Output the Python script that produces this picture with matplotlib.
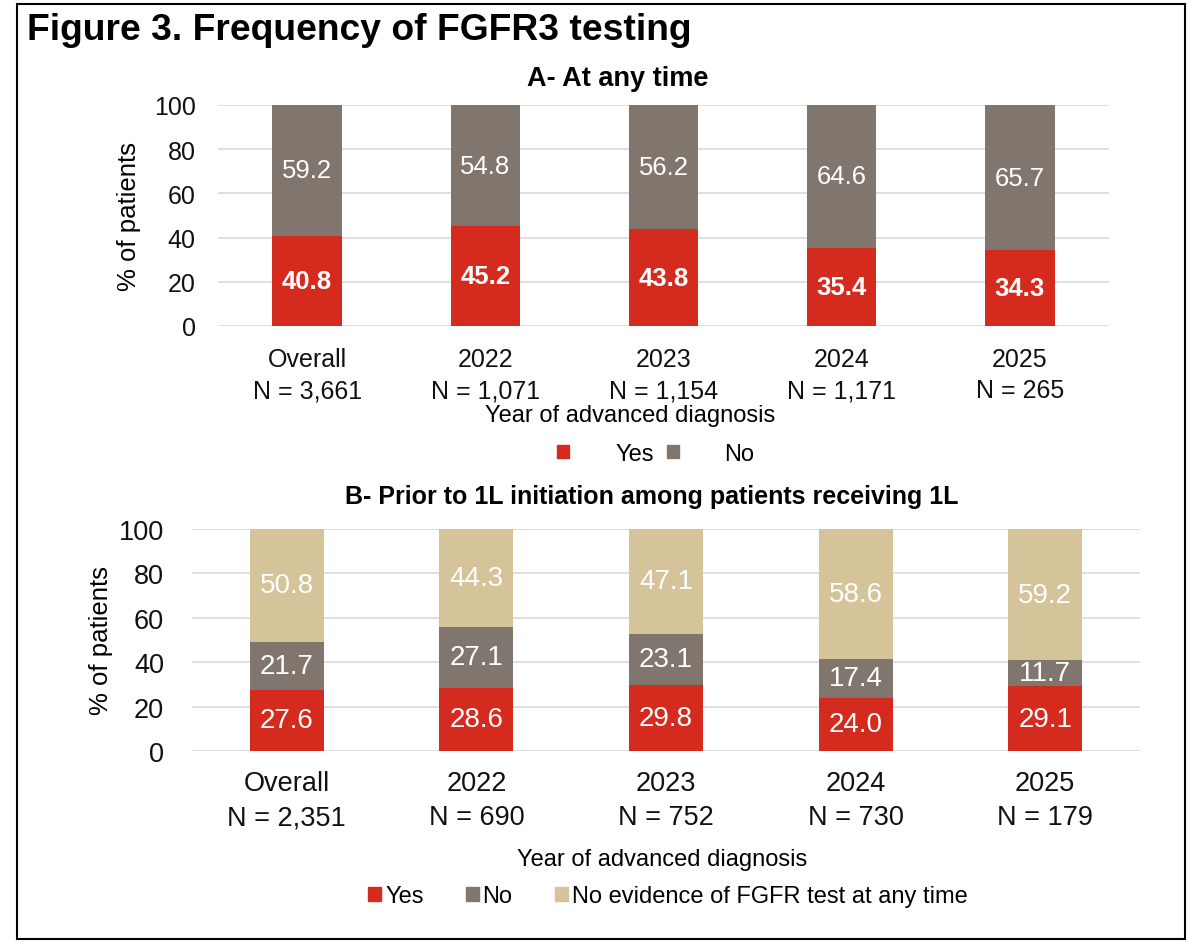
import matplotlib.pyplot as plt
from matplotlib.patches import Patch, Rectangle

plt.rcParams['font.family'] = ['Liberation Sans', 'DejaVu Sans']

RED = "#d52b1e"
GRAY = "#80766d"
TAN = "#d5c39a"

# panel A
cats_a = ["Overall\nN = 3,661", "2022\nN = 1,071", "2023\nN = 1,154", "2024\nN = 1,171", "2025\nN = 265"]
yes_a = [40.8, 45.2, 43.8, 35.4, 34.3]
no_a = [59.2, 54.8, 56.2, 64.6, 65.7]

# panel B
cats_b = ["Overall\nN = 2,351", "2022\nN = 690", "2023\nN = 752", "2024\nN = 730", "2025\nN = 179"]
yes_b = [27.6, 28.6, 29.8, 24.0, 29.1]
no_b = [21.7, 27.1, 23.1, 17.4, 11.7]
noev_b = [50.8, 44.3, 47.1, 58.6, 59.2]

fig = plt.figure(figsize=(12, 9.53), dpi=100)
fig.patches.append(Rectangle((17 / 1200, 1 - 940 / 953), 1168 / 1200, 935 / 953,
                             transform=fig.transFigure, fill=False, edgecolor="black", linewidth=1.5))
fig.text(27 / 1200, 1 - 31 / 953, "Figure 3. Frequency of FGFR3 testing", fontsize=26.8,
         fontweight="bold", va="center", ha="left")


def style(ax, fs, ypad, xpad):
    ax.set_ylim(0, 100)
    ax.set_yticks(range(0, 101, 20))
    ax.yaxis.grid(True, color="#d9d9d9", linewidth=1.2)
    ax.set_axisbelow(True)
    for s in ax.spines.values():
        s.set_visible(False)
    ax.tick_params(axis="both", length=0, labelsize=fs, colors="#111111")
    ax.tick_params(axis="y", pad=ypad)
    ax.tick_params(axis="x", pad=xpad)
    ax.set_ylabel("% of patients", fontsize=18.5)


w = 0.39

# ---- A
ax1 = fig.add_axes([218 / 1200, 1 - 327 / 953, 891 / 1200, 221 / 953])
x = range(len(cats_a))
ax1.bar(x, yes_a, w, color=RED)
ax1.bar(x, no_a, w, bottom=yes_a, color=GRAY)
for i in x:
    ax1.text(i, yes_a[i] / 2, f"{yes_a[i]:.1f}", ha="center", va="center", color="white",
             fontsize=18.5, fontweight="bold")
    ax1.text(i, yes_a[i] + no_a[i] / 2, f"{no_a[i]:.1f}", ha="center", va="center",
             color="white", fontsize=18.5)
ax1.set_xlim(-0.5, len(cats_a) - 0.5)
ax1.set_xticks(list(x))
ax1.set_xticklabels(cats_a, linespacing=1.4)
style(ax1, 18, 16, 15)
ax1.yaxis.set_label_coords(-0.086, 0.5)
ax1.set_xlabel("Year of advanced diagnosis", fontsize=17)
ax1.xaxis.set_label_coords(0.462, -0.403)
ax1.xaxis.label.set_va("center")
ax1.text(0.449, 1 + 27 / 221, "A- At any time", transform=ax1.transAxes, fontsize=19.5,
         fontweight="bold", ha="center", va="center")
ax1.legend(handles=[Patch(color=RED), Patch(color=GRAY)], labels=["Yes", "No"],
           loc="center", bbox_to_anchor=(0.4916, -0.579), ncol=2, frameon=False, fontsize=17,
           handlelength=0.5, handleheight=0.5, handletextpad=1.95, columnspacing=0.55)

# ---- B
ax2 = fig.add_axes([192 / 1200, 1 - 752 / 953, 948 / 1200, 222 / 953])
x = range(len(cats_b))
bot2 = [a + b for a, b in zip(yes_b, no_b)]
ax2.bar(x, yes_b, w, color=RED)
ax2.bar(x, no_b, w, bottom=yes_b, color=GRAY)
ax2.bar(x, noev_b, w, bottom=bot2, color=TAN)
for i in x:
    ax2.text(i, yes_b[i] / 2, f"{yes_b[i]:.1f}", ha="center", va="center", color="white", fontsize=20)
    ax2.text(i, yes_b[i] + no_b[i] / 2, f"{no_b[i]:.1f}", ha="center", va="center", color="white", fontsize=20)
    ax2.text(i, bot2[i] + noev_b[i] / 2, f"{noev_b[i]:.1f}", ha="center", va="center", color="white", fontsize=20)
ax2.set_xlim(-0.5, len(cats_b) - 0.5)
ax2.set_xticks(list(x))
ax2.set_xticklabels(cats_b, linespacing=1.4)
style(ax2, 19.5, 20, 14)
ax2.yaxis.set_label_coords(-0.083, 0.5)
ax2.set_xlabel("Year of advanced diagnosis", fontsize=17)
ax2.xaxis.set_label_coords(0.496, -0.486)
ax2.xaxis.label.set_va("center")
ax2.text(0.485, 1 + 33 / 222, "B- Prior to 1L initiation among patients receiving 1L",
         transform=ax2.transAxes, fontsize=18, fontweight="bold", ha="center", va="center")
ax2.legend(handles=[Patch(color=RED), Patch(color=GRAY), Patch(color=TAN)],
           labels=["Yes", "No", "No evidence of FGFR test at any time"],
           loc="center", bbox_to_anchor=(0.502, -0.653), ncol=3, frameon=False, fontsize=17,
           handlelength=0.55, handleheight=0.55, handletextpad=0.15, columnspacing=1.8)

fig.savefig("out.png", dpi=100)
